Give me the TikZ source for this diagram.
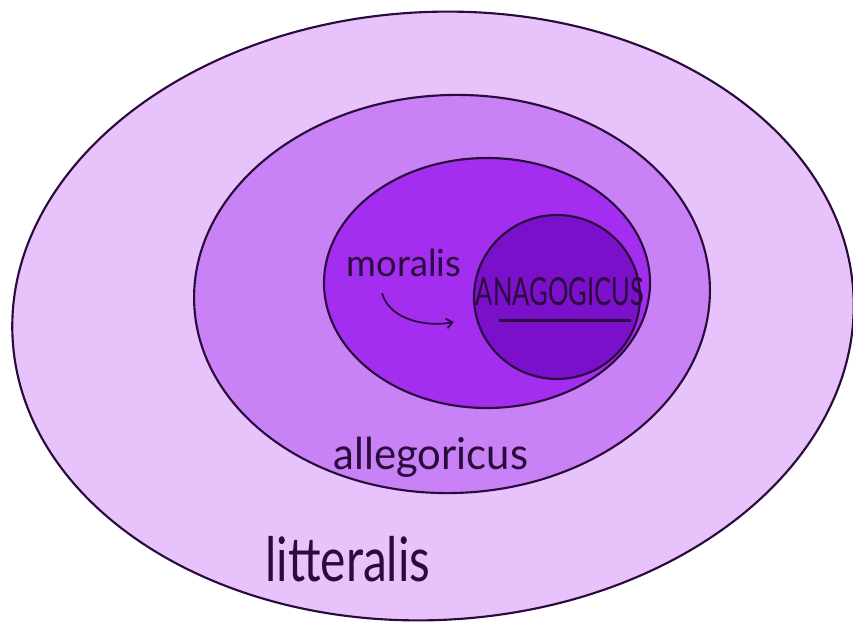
\documentclass[tikz,border=0pt]{standalone}
\usepackage{fontspec}
\setmainfont{Lato}
\usepackage{tikz}
\usetikzlibrary{arrows.meta}
\definecolor{senseLit}{HTML}{E8C3FB}
\definecolor{senseAlle}{HTML}{C982F6}
\definecolor{senseMor}{HTML}{A42EEF}
\definecolor{senseAna}{HTML}{7A10C9}
\definecolor{senseInk}{HTML}{2B0B3D}

\begin{document}
\begin{tikzpicture}[
  x=0.75pt,y=-0.75pt,
  ring/.style={draw=senseInk,line width=1.6pt},
  hand/.style={text=senseInk,inner sep=0pt},
  arrow/.style={-{Straight Barb[length=1.6mm,width=2.6mm]},line width=1.3pt,draw=senseInk}
]
\fill[white] (0,0) rectangle (853,630);
\useasboundingbox (0,0) rectangle (853,630);
\begin{scope}
  \clip (0,0) rectangle (853,630);
  % four senses, outside in
  \filldraw[ring,fill=senseLit] (433,316) ellipse [x radius=421,y radius=304,rotate=3];
  \filldraw[ring,fill=senseAlle] (452,294) ellipse [x radius=258,y radius=199,rotate=2];
  \filldraw[ring,fill=senseMor] (487,283) ellipse [x radius=163,y radius=125];
  \filldraw[ring,fill=senseAna] (557,297) ellipse [x radius=83,y radius=82];
\end{scope}

\node[hand,font=\fontsize{28}{30}\selectfont,xscale=0.97] (moralis) at (404,263) {moralis};
\node[hand,font=\fontsize{29}{30}\selectfont,xscale=0.66] (anagogicus) at (560,292) {ANAGOGICUS};
\node[hand,font=\fontsize{33}{34}\selectfont,xscale=0.95] (allegoricus) at (431,457) {allegoricus};
\node[hand,font=\fontsize{46}{48}\selectfont,xscale=0.78] (litteralis) at (348,559) {litteralis};

\draw[senseInk,line width=2pt] ([shift={(23,14)}]anagogicus.south west) -- ([shift={(-13,14)}]anagogicus.south east);
\draw[arrow] ([shift={(-22,16)}]moralis.south) .. controls +(8,28) and +(-25,5) .. ([shift={(-22,30)}]anagogicus.west);
\end{tikzpicture}
\end{document}
